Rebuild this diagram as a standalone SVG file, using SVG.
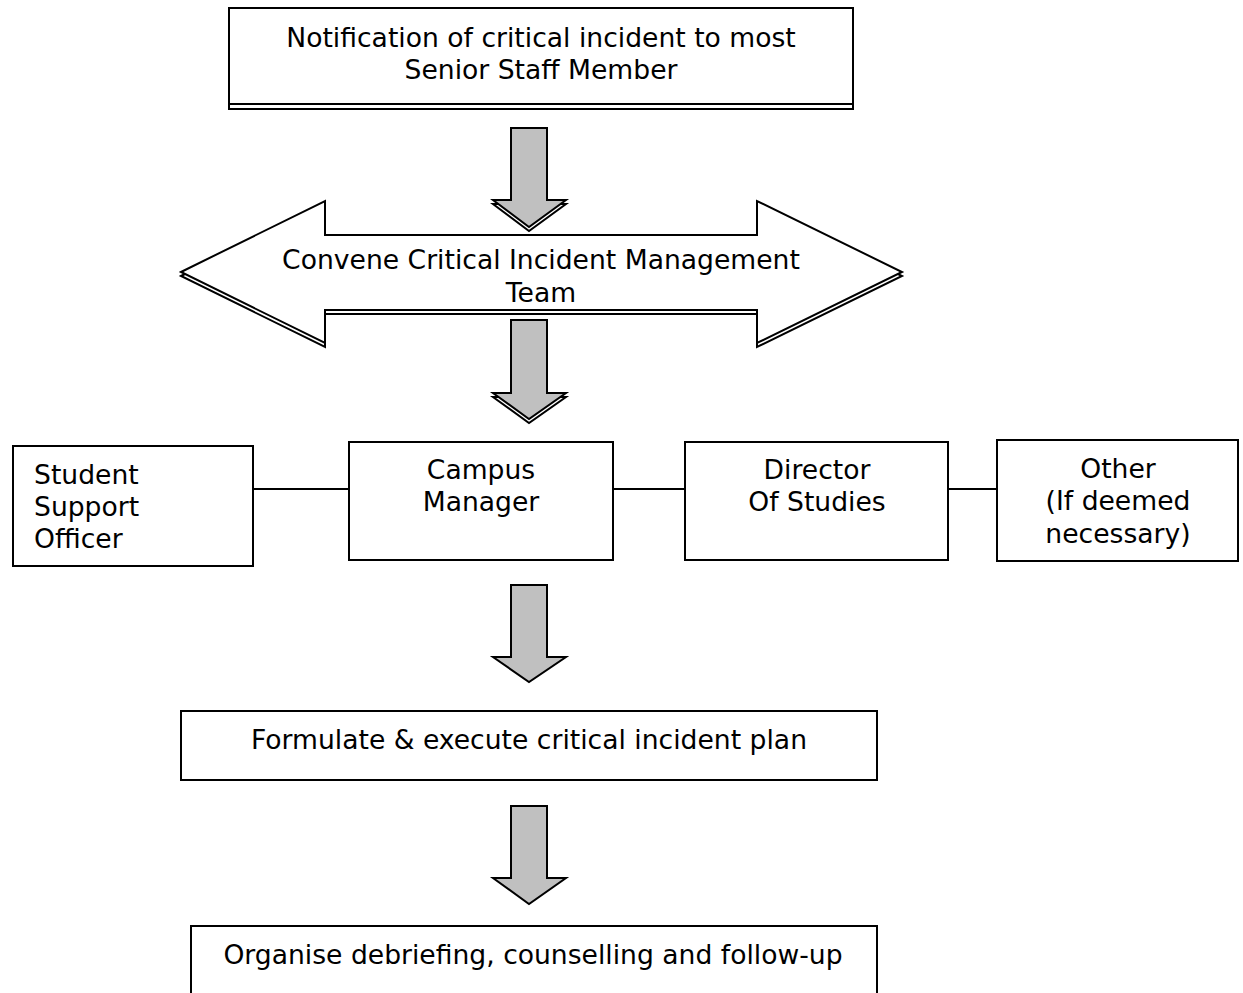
<svg xmlns="http://www.w3.org/2000/svg" width="1243" height="993" viewBox="0 0 1243 993">
<style>
.bx{fill:#fff;stroke:#000;stroke-width:2}
.sh{fill:#fff;stroke:#000;stroke-width:2}
.ar{fill:#c0c0c0;stroke:#000;stroke-width:2;stroke-linejoin:miter}
.ln{stroke:#000;stroke-width:2;fill:none}
text{font-family:"DejaVu Sans","Verdana",sans-serif;font-size:26.6px;fill:#000}
.c{text-anchor:middle}
</style>
<rect width="1243" height="993" fill="#fff"/>
<g id="n-notify">
<rect class="sh" x="229" y="13" width="624" height="96"/>
<rect class="bx" x="229" y="8" width="624" height="96"/>
<text class="c" x="541" y="47">Notification of critical incident to most</text>
<text class="c" x="541" y="79">Senior Staff Member</text>
</g>
<g id="n-convene">
<polygon class="sh" points="181,276 325,205 325,239 757,239 757,205 902,276 757,347 757,314 325,314 325,347"/>
<polygon class="bx" points="181,272 325,201 325,235 757,235 757,201 902,272 757,343 757,310 325,310 325,343"/>
<text class="c" x="541" y="269">Convene Critical Incident Management</text>
<text class="c" x="541" y="302">Team</text>
</g>
<g id="n-student">
<rect class="bx" x="13" y="446" width="240" height="120"/>
<text x="34" y="484">Student</text>
<text x="34" y="516">Support</text>
<text x="34" y="548">Officer</text>
</g>
<g id="n-campus">
<rect class="bx" x="349" y="442" width="264" height="118"/>
<text class="c" x="481" y="479">Campus</text>
<text class="c" x="481" y="511">Manager</text>
</g>
<g id="n-director">
<rect class="bx" x="685" y="442" width="263" height="118"/>
<text class="c" x="817" y="479">Director</text>
<text class="c" x="817" y="511">Of Studies</text>
</g>
<g id="n-other">
<rect class="bx" x="997" y="440" width="241" height="121"/>
<text class="c" x="1118" y="478">Other</text>
<text class="c" x="1118" y="510">(If deemed</text>
<text class="c" x="1118" y="543">necessary)</text>
</g>
<g id="n-formulate">
<rect class="bx" x="181" y="711" width="696" height="69"/>
<text class="c" x="529" y="749">Formulate &amp; execute critical incident plan</text>
</g>
<g id="n-organise">
<rect class="bx" x="191" y="926" width="686" height="80"/>
<text class="c" x="533" y="964">Organise debriefing, counselling and follow-up</text>
</g>
<g id="connectors">
<polygon class="sh" points="511,131 547,131 547,204 566,204 529,231 493,204 511,204"/>
<polygon class="ar" points="511,128 547,128 547,200 566,200 529,227 493,200 511,200"/>
<polygon class="sh" points="511,324 547,324 547,397 566,397 529,423 493,397 511,397"/>
<polygon class="ar" points="511,320 547,320 547,393 566,393 529,419 493,393 511,393"/>
<polygon class="ar" points="511,585 547,585 547,657 566,657 529,682 493,657 511,657"/>
<polygon class="ar" points="511,806 547,806 547,878 566,878 529,904 493,878 511,878"/>
<line class="ln" x1="253" y1="489" x2="349" y2="489"/>
<line class="ln" x1="613" y1="489" x2="685" y2="489"/>
<line class="ln" x1="948" y1="489" x2="997" y2="489"/>
</g>
</svg>
